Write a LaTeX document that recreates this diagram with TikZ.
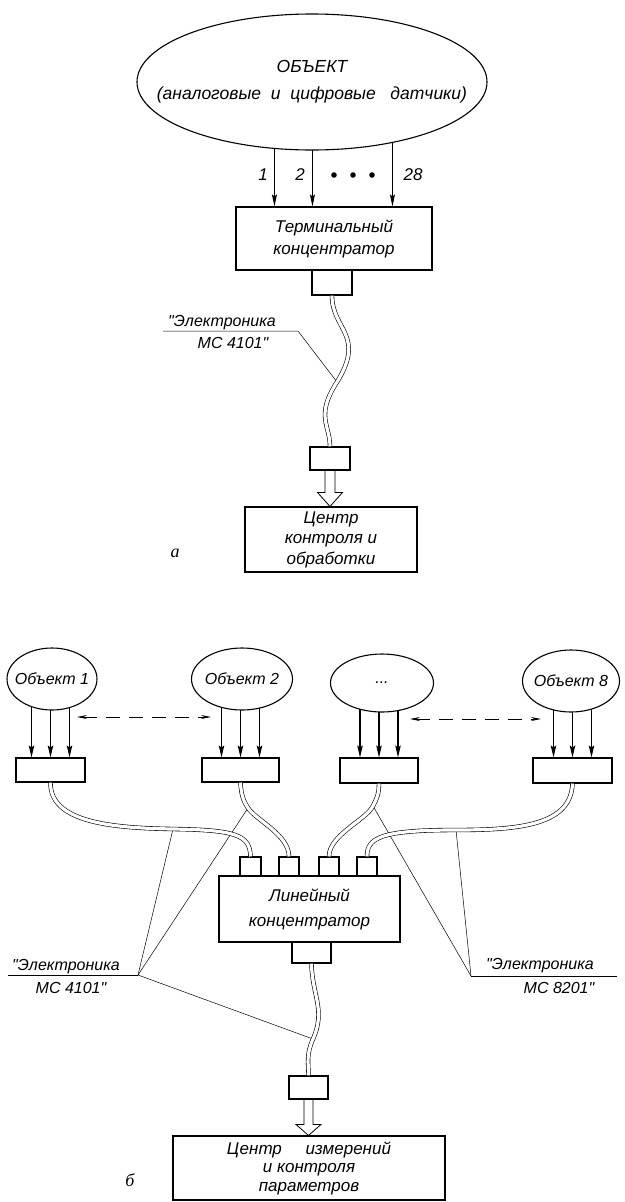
\documentclass[tikz,border=0pt]{standalone}
\usepackage{fontspec}
\setmainfont{Liberation Sans}
\newfontfamily\figfont{Liberation Serif}
\usetikzlibrary{shapes.geometric,arrows.meta,calc}
\pgfdeclarelayer{background}
\pgfsetlayers{background,main}
\begin{document}
\begin{tikzpicture}[x=1pt,y=-1pt,
  every node/.style={font=\itshape\fontsize{17}{22}\selectfont},
  box/.style={draw,line width=1.1pt,fill=white,inner sep=0pt,align=center},
  oval/.style={ellipse,draw,line width=1.1pt,fill=white,inner sep=0pt},
  otext/.style={label={[font=\itshape\fontsize{16}{18}\selectfont,inner sep=0pt]center:#1}},
  cable/.style={draw=black,line width=0.6pt,double=white,double distance=3.2pt},
  sig/.style={line width=0.9pt,-{Stealth[length=12pt,width=5pt,inset=2pt]}},
  sigb/.style={line width=1.2pt,-{Stealth[length=12pt,width=5.5pt,inset=2pt]}},
  leader/.style={line width=0.5pt},
  dashar/.style={line width=0.8pt,dash pattern=on 14pt off 9pt,{Stealth[length=10pt,width=4pt]}-{Stealth[length=10pt,width=4pt]}},
  hollow/.style={line width=0.8pt,fill=white},
  lbl/.style={font=\itshape\fontsize{16}{18}\selectfont,inner sep=0pt},
  figl/.style={font=\figfont\itshape\fontsize{18}{20}\selectfont},
]
\path[use as bounding box] (0,0) rectangle (624,1202);

% ---------------- part a ----------------
\node[oval,minimum width=350pt,minimum height=136pt,
  label={[align=center,inner sep=0pt,font=\itshape\fontsize{17.5}{27}\selectfont]center:ОБЪЕКТ\\(аналоговые\ \ и\ \ цифровые\ \ \ датчики)}] (obj) at (312,82) {};
\node[box,minimum width=196pt,minimum height=63pt] (tc) at (334,238.5) {Терминальный\\концентратор};
\node[box,minimum width=40pt,minimum height=25pt] (tcc) at (332,282.5) {};
\node[box,minimum width=40pt,minimum height=23pt] (lc1) at (330,458.5) {};
\node[box,minimum width=172pt,minimum height=65pt,font=\itshape\fontsize{17}{20.5}\selectfont] (cc) at (331,539.5) {Центр\\контроля и\\обработки};

\coordinate (a1) at ($(tc.north west)+(39,0)$);
\coordinate (a2) at ($(tc.north west)+(77,0)$);
\coordinate (a3) at ($(tc.north west)+(157,0)$);
\begin{pgfonlayer}{background}
  \draw[sig] (a1 |- obj.center) -- (a1);
  \draw[sig] (a2 |- obj.center) -- (a2);
  \draw[sig] (a3 |- obj.center) -- (a3);
\end{pgfonlayer}
\node (n1) at (263,175) {1};
\node (n2) at (300,175) {2};
\node (n28) at (413,175) {28};
\fill (334,175) circle (2.8pt) (353,175) circle (2.8pt) (372,175) circle (2.8pt);

\draw[cable] (tcc.south) .. controls (332,330) and (366,335) .. (337,382) coordinate (k0)
  .. controls (315,416) and (330,425) .. (lc1.north);

\coordinate (t1) at (cc.north -| lc1.south);
\draw[hollow] ($(lc1.south)+(-5,0)$) -- ($(lc1.south)+(5,0)$) -- ($(t1)+(5,-14)$) -- ($(t1)+(12.5,-14)$)
  -- (t1) -- ($(t1)+(-12.5,-14)$) -- ($(t1)+(-5,-14)$) -- cycle;

\node[lbl,anchor=base west] (e0) at (168,326) {\textquotedbl Электроника};
\node[lbl,anchor=base] (m0) at (233,348) {МС 4101\textquotedbl};
\coordinate (u0a) at (163,331);
\coordinate (u0b) at (298,331);
\begin{pgfonlayer}{background}
  \draw[leader] (u0a) -- (u0b) -- (k0);
\end{pgfonlayer}
\node[figl] (fa) at (175,553) {а};

% ---------------- part b ----------------
\node[oval,otext={Объект 1},minimum width=90pt,minimum height=62pt] (o1) at (52,679) {};
\node[oval,otext={Объект 2},minimum width=101pt,minimum height=62pt] (o2) at (242,679) {};
\node[oval,otext={...},minimum width=103pt,minimum height=58pt] (o3) at (382,683) {};
\node[oval,otext={Объект 8},minimum width=97pt,minimum height=62pt] (o8) at (571,681) {};

\node[box,minimum width=69pt,minimum height=24pt] (b1) at (50.5,770) {};
\node[box,minimum width=77pt,minimum height=24pt] (b2) at (240.5,770) {};
\node[box,minimum width=78pt,minimum height=25pt] (b3) at (379,770.5) {};
\node[box,minimum width=79pt,minimum height=25pt] (b8) at (572.5,770.5) {};

\begin{pgfonlayer}{background}
  \foreach \b/\o in {b1/o1,b2/o2,b3/o3,b8/o8}{
    \foreach \dx [count=\i] in {-19,0,19}{
      \coordinate (\b-in\i) at ($(\b.north)+(\dx,0)$);
      \draw[sigb] (\b-in\i |- \o.center) -- (\b-in\i);
    }
  }
\end{pgfonlayer}

\coordinate (d1l) at (77,717);
\coordinate (d1r) at (211,717);
\coordinate (d2l) at (410,719);
\coordinate (d2r) at (541,719);
\draw[dashar] (d1l) -- (d1r);
\draw[dashar] (d2l) -- (d2r);

\node[box,minimum width=181pt,minimum height=66pt,font=\itshape\fontsize{17}{25}\selectfont] (lc) at (309.5,909) {Линейный\\концентратор};
\node[box,minimum width=21pt,minimum height=19pt] (p1) at (250.5,866.5) {};
\node[box,minimum width=20pt,minimum height=19pt] (p2) at (289,866.5) {};
\node[box,minimum width=20pt,minimum height=19pt] (p3) at (329,866.5) {};
\node[box,minimum width=20pt,minimum height=19pt] (p4) at (367,866.5) {};
\node[box,minimum width=39pt,minimum height=21pt] (pb) at (311.5,952.5) {};
\node[box,minimum width=39pt,minimum height=23pt] (pl) at (308.5,1087.5) {};
\node[box,minimum width=272pt,minimum height=64pt,font=\itshape\fontsize{17}{18.5}\selectfont] (bc) at (309,1168)
  {Центр\ \ \ \ \ измерений\\и контроля\\параметров};

\draw[cable] (b1.south) .. controls (50,822) and (110,828) .. (173,829) coordinate (k1)
  .. controls (236,830) and (250,835) .. (p1.north);
\draw[cable] (b2.south) .. controls (241,795) and (244,802) .. (248,808) coordinate (k2)
  .. controls (256,820) and (289,835) .. (p2.north);
\draw[cable] (b3.south) .. controls (379,795) and (376,800) .. (373,806) coordinate (k3)
  .. controls (366,820) and (329,835) .. (p3.north);
\draw[cable] (b8.south) .. controls (571,825) and (520,830) .. (456,830) coordinate (k8)
  .. controls (380,830) and (367,838) .. (p4.north);
\draw[cable] (pb.south) .. controls (312,995) and (326,1010) .. (313,1039) coordinate (k9)
  .. controls (306,1055) and (308.5,1062) .. (pl.north);

\coordinate (t2) at (bc.north -| pl.south);
\draw[hollow] ($(pl.south)+(-4.5,0)$) -- ($(pl.south)+(4.5,0)$) -- ($(t2)+(4.5,-11)$) -- ($(t2)+(12.5,-11)$)
  -- (t2) -- ($(t2)+(-12.5,-11)$) -- ($(t2)+(-4.5,-11)$) -- cycle;

\node[lbl,anchor=base west] (e1) at (12,970) {\textquotedbl Электроника};
\node[lbl,anchor=base] (m1) at (71,993) {МС 4101\textquotedbl};
\coordinate (u1a) at (8,975);
\coordinate (u1b) at (138,975);
\node[lbl,anchor=base west] (e2) at (486,969) {\textquotedbl Электроника};
\node[lbl,anchor=base] (m2) at (559,993) {МС 8201\textquotedbl};
\coordinate (u2a) at (471,976);
\coordinate (u2b) at (617,976);
\begin{pgfonlayer}{background}
  \draw[leader] (u1a) -- (u1b);
  \draw[leader] (u1b) -- (k1);
  \draw[leader] (u1b) -- (k2);
  \draw[leader] (u1b) -- (k9);
  \draw[leader] (u2b) -- (u2a);
  \draw[leader] (u2a) -- (k3);
  \draw[leader] (u2a) -- (k8);
\end{pgfonlayer}
\node[figl] (fb) at (130,1180) {б};
\end{tikzpicture}
\end{document}
